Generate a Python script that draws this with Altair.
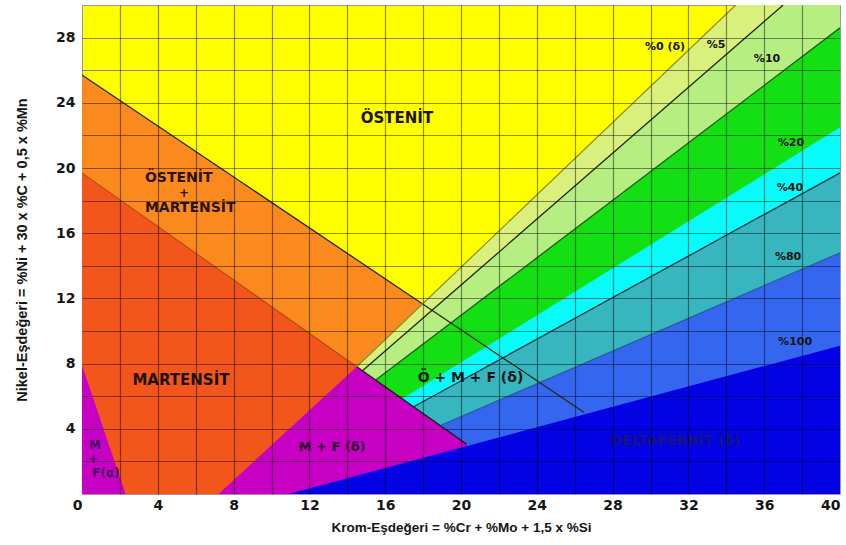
import altair as alt
import pandas as pd

# Schaeffler diagram: chromium equivalent (x) vs nickel equivalent (y)
X_DOMAIN = [0, 40]
Y_DOMAIN = [0, 30]

# Phase boundary lines, as (x, y) end points
austenite_x = [0, 26.5]          # A / A+M boundary, runs on through the ferrite bands
austenite_y = [25.7, 5.0]
martensite_x = [0, 20.3]         # M / A+M boundary
martensite_y = [19.7, 3.05]
mart_mf_x = [7.2, 14.5]          # M / M+F(delta) boundary
mart_mf_y = [0, 7.81]
alpha_x = [0, 2.3]               # M+F(alpha) corner
alpha_y = [7.9, 0]
full_ferrite_x = [10.9, 40]      # 100 % delta-ferrite line
full_ferrite_y = [0, 9.1]

# Delta-ferrite iso-lines: start on the martensite line, end on the frame
ferrite_pct = ["0", "5", "10", "20", "40", "80"]
ferrite_x0 = [14.5, 14.8, 15.5, 16.9, 17.5, 18.9]
ferrite_y0 = [7.81, 7.56, 6.99, 5.84, 5.35, 4.20]
ferrite_x1 = [34.5, 37.0, 40, 40, 40, 40]
ferrite_y1 = [30, 30, 28.6, 22.5, 19.7, 14.8]
band_colors = ["#DAF07C", "#B6EE82", "#12E012", "#08FAFA", "#38B6C0", "#3466F0"]

# Region and iso-line labels
big_labels = ["ÖSTENİT", "MARTENSİT"]
big_x = [16.62, 5.22]
big_y = [23.07, 6.99]
am_labels = ["ÖSTENİT", "MARTENSİT"]
am_x = [3.32, 3.32]
am_y = [19.39, 17.55]
am_plus_x = [5.38]
am_plus_y = [18.47]
mfa_labels = ["M", "+", "F(α)"]
mfa_x = [0.69, 0.6, 1.27]
mfa_y = [3.0, 2.15, 1.31]
mix_labels = ["M + F (δ)", "Ö + M + F (δ)"]
mix_x = [13.2, 20.5]
mix_y = [2.88, 7.1]
delta_label = ["DELTAFERRİT (δ)"]
delta_x = [31.3]
delta_y = [3.25]
pct_labels = ["%0 (δ)", "%5", "%10", "%20", "%40", "%80", "%100"]
pct_x = [30.77, 33.46, 36.15, 37.41, 37.36, 37.26, 37.63]
pct_y = [27.42, 27.55, 26.69, 21.53, 18.77, 14.54, 9.33]

x_scale = alt.Scale(domain=X_DOMAIN, nice=False, zero=False)
y_scale = alt.Scale(domain=Y_DOMAIN, nice=False, zero=False)

x_axis = alt.Axis(
    values=list(range(0, 41, 2)),
    labelExpr="datum.value % 4 == 0 ? datum.label : ''",
    labelOverlap=False, labelFlush=False,
    labelAlign={"condition": {"test": "datum.value == 0 || datum.value == 40", "value": "right"},
                "value": "center"},
    title="Krom-Eşdeğeri = %Cr + %Mo + 1,5 x %Si",
    ticks=False, tickSize=0, domain=False,
    grid=True, gridColor="#000000", gridWidth=1.2,
    gridOpacity={"condition": {"test": "datum.value == 0 || datum.value == 40", "value": 0}, "value": 0.45},
    labelFont="DejaVu Sans", labelFontWeight="bold", labelFontSize=14, labelColor="#151515",
    labelPadding=4,
    titleFont="Liberation Sans", titleFontWeight="bold", titleFontSize=13.5, titleColor="#151515",
    titleY=33, titleBaseline="middle",
    zindex=1,
)
y_axis = alt.Axis(
    values=list(range(0, 31, 2)),
    labelExpr="datum.value % 4 == 0 && datum.value > 0 && datum.value < 30 ? datum.label : ''",
    labelOverlap=False, labelFlush=False,
    title="Nikel-Eşdeğeri = %Ni + 30 x %C + 0,5 x %Mn",
    ticks=False, tickSize=0, domain=False,
    grid=True, gridColor="#000000", gridWidth=1.2,
    gridOpacity={"condition": {"test": "datum.value == 0 || datum.value == 30", "value": 0}, "value": 0.45},
    labelFont="DejaVu Sans", labelFontWeight="bold", labelFontSize=14, labelColor="#151515",
    labelPadding=7,
    titleFont="Liberation Sans", titleFontWeight="bold", titleFontSize=14.5, titleColor="#151515",
    titleX=-60, titleBaseline="middle",
    zindex=1,
)


def enc_xy(chart):
    return chart.encode(
        x=alt.X("x:Q", scale=x_scale, axis=x_axis),
        y=alt.Y("y:Q", scale=y_scale, axis=y_axis),
    )


def region(xs, ys, color):
    """Filled region between a boundary polyline and the bottom of the plot."""
    df = pd.DataFrame({"x": xs, "y": ys, "lo": [0] * len(xs)})
    return enc_xy(
        alt.Chart(df).mark_area(color=color, orient="vertical", opacity=1, clip=True)
    ).encode(y2="lo:Q")


def boundary(xs, ys, color, width=1.3, opacity=1.0):
    df = pd.DataFrame({"x": xs, "y": ys})
    return enc_xy(
        alt.Chart(df).mark_line(color=color, strokeWidth=width, opacity=opacity, clip=True)
    )


def labels(texts, xs, ys, size, color, align="center", font="DejaVu Sans"):
    df = pd.DataFrame({"x": xs, "y": ys, "t": texts})
    return enc_xy(
        alt.Chart(df).mark_text(
            font=font, fontWeight="bold", fontSize=size, color=color,
            align=align, baseline="middle",
        )
    ).encode(text="t:N")


layers = []
# austenite + martensite (light orange) below the A line
layers.append(region(austenite_x, austenite_y, "#FA8A1E"))
# martensite (dark orange) below the M line
layers.append(region([martensite_x[0], ferrite_x0[0]], [martensite_y[0], ferrite_y0[0]], "#F2561A"))
# delta-ferrite bands, each painted below its own iso-line
for i in range(len(ferrite_pct)):
    xs = [ferrite_x0[i], ferrite_x1[i]]
    ys = [ferrite_y0[i], ferrite_y1[i]]
    if ferrite_x1[i] < X_DOMAIN[1]:
        xs.append(X_DOMAIN[1])
        ys.append(Y_DOMAIN[1])
    layers.append(region(xs, ys, band_colors[i]))
# martensite + delta ferrite (magenta)
layers.append(region(mart_mf_x + [martensite_x[1]], mart_mf_y + [martensite_y[1]], "#C800C4"))
# fully ferritic (dark blue)
layers.append(region(full_ferrite_x, full_ferrite_y, "#0202E4"))
# martensite + alpha ferrite (magenta)
layers.append(region(alpha_x, alpha_y, "#C800C4"))

# boundary lines
layers.append(boundary(martensite_x, martensite_y, "#3a1500", 1.1, 0.35))
layers.append(boundary(austenite_x, austenite_y, "#2a2a10", 1.3))
layers.append(boundary([ferrite_x0[0], martensite_x[1]], [ferrite_y0[0], martensite_y[1]], "#1e1e1e", 1.3))
line_styles = [("#8c8c28", 1.2, 1.0), ("#1c2a10", 1.3, 1.0), ("#1d4a12", 1.3, 0.9),
               None, ("#123844", 1.3, 1.0), ("#1d4470", 1.2, 0.6)]
for i, style in enumerate(line_styles):
    if style is None:
        continue
    layers.append(boundary([ferrite_x0[i], ferrite_x1[i]], [ferrite_y0[i], ferrite_y1[i]], *style))

# labels
layers.append(labels(big_labels, big_x, big_y, 15, "#1c1208"))
layers.append(labels(am_labels, am_x, am_y, 14, "#2a1204", align="left"))
layers.append(labels(["+"], am_plus_x, am_plus_y, 12, "#2a1204"))
layers.append(labels(mfa_labels, mfa_x, mfa_y, 12, "#4a0a62"))
layers.append(labels(mix_labels[:1], mix_x[:1], mix_y[:1], 13, "#2a0830"))
layers.append(labels(mix_labels[1:], mix_x[1:], mix_y[1:], 14, "#101818"))
layers.append(labels(delta_label, delta_x, delta_y, 14, "#16167a"))
layers.append(labels(pct_labels, pct_x, pct_y, 11, "#141414"))

chart = alt.layer(*layers).properties(
    width=758,
    height=489,
    padding={"left": 82, "top": 5, "right": 6, "bottom": 51},
    autosize=alt.AutoSizeParams(type="none"),
    background="#FFFFFF",
).configure_view(fill="#FFFF00", stroke="#9a9a9a", strokeWidth=1)

chart.save("out.html", embed_options={"renderer": "svg", "actions": False})
